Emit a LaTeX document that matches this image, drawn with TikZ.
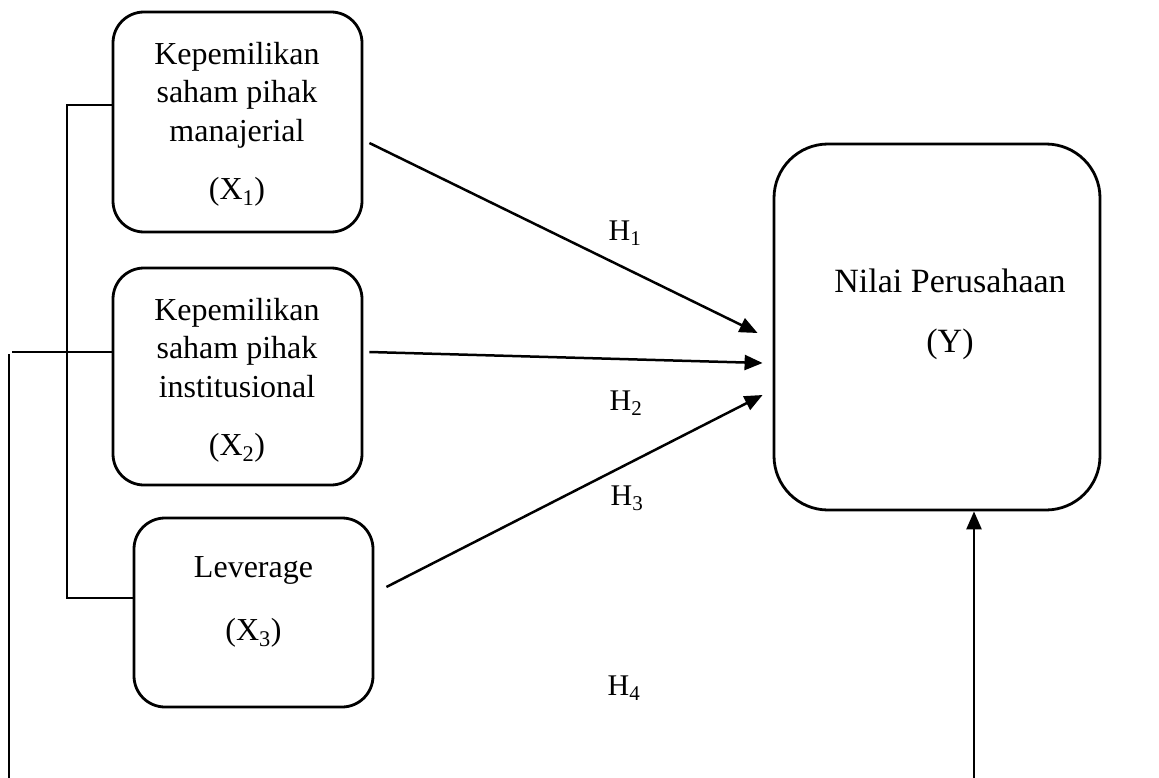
\documentclass[tikz,border=0pt]{standalone}
\usepackage{fontspec}
\setmainfont{Liberation Serif}
\usetikzlibrary{arrows.meta}
\begin{document}
\begin{tikzpicture}[x=1pt,y=1pt,
  box/.style={draw, line width=2.8pt, rounded corners=31pt, inner sep=0pt},
  txt/.style={align=center, inner sep=0pt, anchor=north, font=\fontsize{32}{38.5}\selectfont},
  hyp/.style={inner sep=0pt, font=\fontsize{30}{36}\selectfont},
  arr/.style={line width=2.5pt, -{Triangle[length=18pt,width=15pt]}},
  thin/.style={line width=1.3pt}]
\useasboundingbox (0,0) rectangle (1159,-778);
% boxes
\node[box, minimum width=249pt, minimum height=220pt] (X1) at (237.5,-122) {};
\node[box, minimum width=249pt, minimum height=217pt] (X2) at (237.5,-376.5) {};
\node[box, minimum width=239pt, minimum height=189pt] (X3) at (253.5,-612.5) {};
\node[box, rounded corners=54pt, minimum width=326pt, minimum height=366pt] (Y) at (937,-327) {};
% box texts
\node[txt] (X1t) at (237,-42) {Kepemilikan\\saham pihak\\manajerial\\[19.5pt](X\textsubscript{1})};
\node[txt] (X2t) at (237,-298) {Kepemilikan\\saham pihak\\institusional\\[19.5pt](X\textsubscript{2})};
\node[txt] (X3t) at (253.5,-556) {Leverage\\[24.5pt](X\textsubscript{3})};
\node[txt, font=\fontsize{34}{41}\selectfont] (Yt) at (950,-269) {Nilai Perusahaan\\[19pt](Y)};
% hypothesis labels
\node[hyp] (H1) at (625,-233) {H\textsubscript{1}};
\node[hyp] (H2) at (626,-403) {H\textsubscript{2}};
\node[hyp] (H3) at (627,-498) {H\textsubscript{3}};
\node[hyp] (H4) at (624,-688) {H\textsubscript{4}};
% arrows to Y
\draw[arr] ([xshift=6pt,yshift=-21pt]X1.east) -- ([xshift=-15pt,yshift=-6pt]Y.west);
\draw[arr] ([xshift=6pt,yshift=24.5pt]X2.east) -- ([xshift=-10pt,yshift=-36pt]Y.west);
\draw[arr] ([xshift=12pt,yshift=25.5pt]X3.east) -- ([xshift=-10pt,yshift=-68pt]Y.west);
% bracket
\coordinate (bt) at (67,-105);
\coordinate (bb) at (67,-598);
\draw[thin] (bt -| X1.west) -- (bt) -- (bb) -- (bb -| X3.west);
% H4 line
\coordinate (m) at (12,-352);
\coordinate (mt) at (9,-354);
\coordinate (mb) at (9,-778);
\draw[thin] (m) -- (m -| X2.west);
\draw[thin] (mt) -- (mb);
\coordinate (rb) at (974,-778);
\draw[arr] (rb) -- (rb |- Y.south);
\end{tikzpicture}
\end{document}
